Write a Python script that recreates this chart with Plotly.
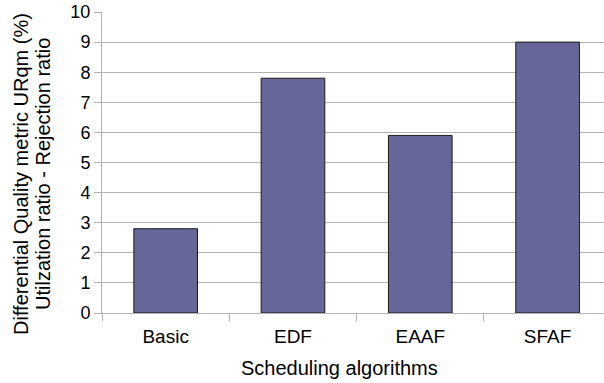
import plotly.graph_objects as go

# Scheduling algorithms and their differential quality metric (URqm, %)
algorithms = ["Basic", "EDF", "EAAF", "SFAF"]
urqm_values = [2.8, 7.8, 5.9, 9.0]
y_ticks = list(range(0, 11))

FONT = "Liberation Sans, Arial, sans-serif"
GRID = "#b3b3b3"

# plot area geometry (pixels)
L, R, T, B = 102, 0, 12, 70
W, H = 604, 383
PW, PH = W - L - R, H - T - B

fig = go.Figure(
    go.Bar(
        x=algorithms,
        y=urqm_values,
        width=0.5,
        marker=dict(color="#666699", line=dict(color="#1a1a1a", width=1)),
    )
)

fig.update_layout(
    width=W,
    height=H,
    margin=dict(l=L, r=R, t=T, b=B),
    paper_bgcolor="white",
    plot_bgcolor="white",
    font=dict(family=FONT, size=18, color="black"),
    showlegend=False,
)

fig.update_xaxes(
    type="category",
    range=[-0.5, 3.443],
    tickson="boundaries",
    ticks="outside",
    ticklen=7,
    tickcolor=GRID,
    showline=True,
    linecolor=GRID,
    linewidth=1,
    showgrid=False,
    ticklabelstandoff=6,
    tickfont=dict(family=FONT, size=19),
)

fig.update_yaxes(
    range=[0, 10],
    tickvals=y_ticks,
    ticks="outside",
    ticklen=7,
    tickcolor=GRID,
    showline=True,
    linecolor=GRID,
    showgrid=True,
    gridcolor=GRID,
    gridwidth=1,
    zeroline=False,
    tickfont=dict(family=FONT, size=18),
)

# two-line y-axis title, each line placed separately for tight spacing
y_title_lines = [
    ("Differential Quality metric URqm (%)", 21),
    ("Utilzation ratio - Rejection ratio", 43),
]
for text, px in y_title_lines:
    fig.add_annotation(
        text=text,
        xref="paper",
        yref="paper",
        x=(px - L) / PW,
        y=(H - B - 174) / PH,
        xanchor="center",
        yanchor="middle",
        textangle=-90,
        showarrow=False,
        font=dict(family=FONT, size=20),
    )

fig.add_annotation(
    text="Scheduling algorithms",
    xref="paper",
    yref="paper",
    x=(339 - L) / PW,
    y=-(368 - (H - B)) / PH,
    xanchor="center",
    yanchor="middle",
    showarrow=False,
    font=dict(family=FONT, size=20),
)

fig.write_html("out.html")
